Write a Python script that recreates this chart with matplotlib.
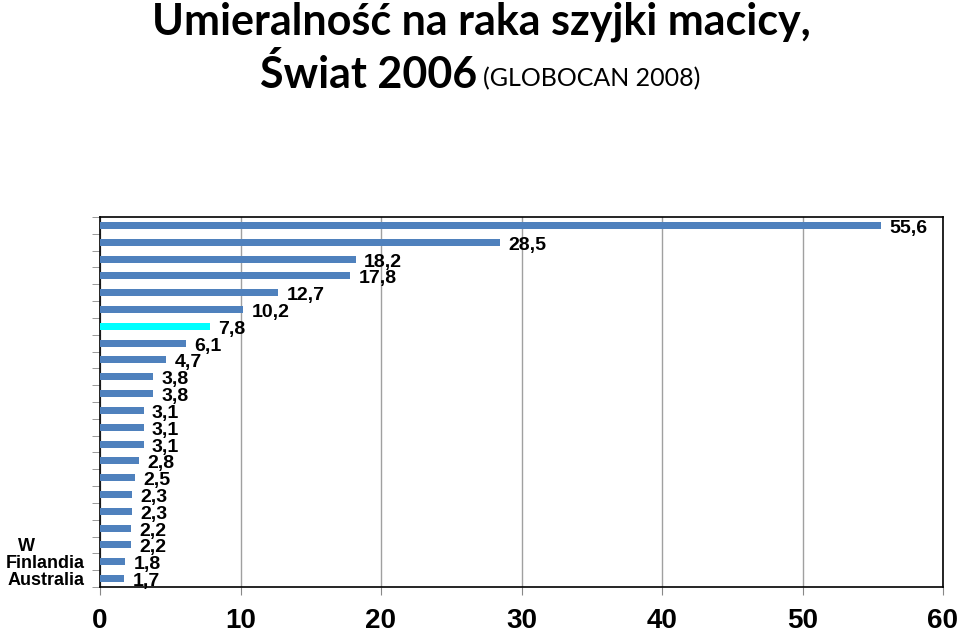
import matplotlib.pyplot as plt
from matplotlib.ticker import FixedLocator

# values top -> bottom
values = [55.6, 28.5, 18.2, 17.8, 12.7, 10.2, 7.8, 6.1, 4.7, 3.8, 3.8,
          3.1, 3.1, 3.1, 2.8, 2.5, 2.3, 2.3, 2.2, 2.2, 1.8, 1.7]
# only the bottom three country names are visible in the original
labels = [""] * 19 + ["W", "Finlandia", "Australia"]
highlight = 6  # bar drawn in cyan
x_ticks = [0, 10, 20, 30, 40, 50, 60]

BAR_COLOR = "#4f81bd"
HI_COLOR = "#00ffff"
NUM_FONT = ["Liberation Sans Narrow", "Liberation Sans", "DejaVu Sans"]
TITLE_FONT = ["Lato", "DejaVu Sans"]

fig = plt.figure(figsize=(9.6, 6.34), dpi=100)
ax = fig.add_axes([100 / 960, 1 - 587 / 634, 843 / 960, 370 / 634])

n = len(values)
ypos = list(range(n - 1, -1, -1))
colors = [HI_COLOR if i == highlight else BAR_COLOR for i in range(n)]
ax.barh(ypos, values, height=0.42, color=colors, zorder=3)

for y, v in zip(ypos, values):
    ax.text(v + 0.6, y - 0.18, f"{v:.1f}".replace(".", ","),
            ha="left", va="center", fontsize=14, fontweight="bold",
            family=NUM_FONT, zorder=4)

ax.set_xlim(0, 60)
ax.set_ylim(-0.5, n - 0.5)
ax.set_xticks(x_ticks)
ax.set_xticklabels([str(t) for t in x_ticks], fontsize=20, fontweight="bold",
                   family=NUM_FONT)
ax.tick_params(axis="x", length=6, color="#888888", pad=9)

ax.set_yticks(ypos)
ax.set_yticklabels(labels, fontsize=13, fontweight="bold",
                   family=["Liberation Sans", "DejaVu Sans"])
ax.tick_params(axis="y", which="major", length=0, pad=11)
ax.yaxis.set_minor_locator(FixedLocator([i - 0.5 for i in range(n + 1)]))
ax.tick_params(axis="y", which="minor", length=6, color="#888888")

# the "W" label sits further left in the original
for lbl in ax.get_yticklabels():
    if lbl.get_text() == "W":
        lbl.set_horizontalalignment("center")
        lbl.set_x(-0.069)

ax.grid(axis="x", color="#a0a0a0", linewidth=1, zorder=0)
for s in ax.spines.values():
    s.set_linewidth(1.2)
    s.set_color("black")

fig.text(481 / 960, 1 - 22 / 634, "Umieralność na raka szyjki macicy,",
         ha="center", va="center", fontsize=31, fontweight="bold",
         family=TITLE_FONT)
fig.text(477 / 960, 1 - 75 / 634, "Świat 2006", ha="right", va="center",
         fontsize=31, fontweight="bold", family=TITLE_FONT)
fig.text(483 / 960, 1 - 79 / 634, "(GLOBOCAN 2008)", ha="left", va="center",
         fontsize=18, family=TITLE_FONT)

fig.savefig("out.png", dpi=100)
